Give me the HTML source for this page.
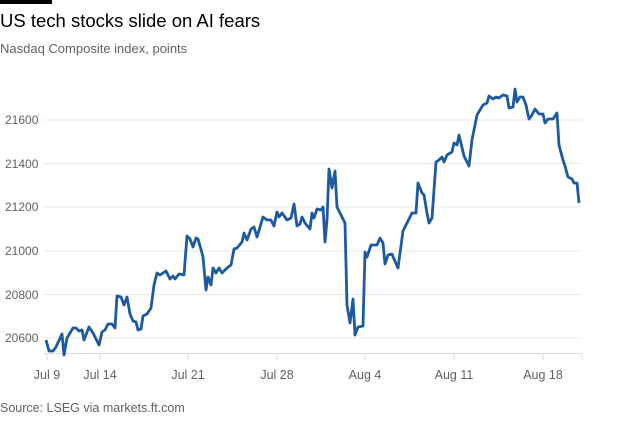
<!DOCTYPE html>
<html><head><meta charset="utf-8"><style>
body{margin:0;background:#fff;width:634px;height:428px;overflow:hidden;font-family:"Liberation Sans",sans-serif}
</style></head><body>
<svg width="634" height="428" xmlns="http://www.w3.org/2000/svg" font-family="Liberation Sans, sans-serif">
<rect x="0" y="0" width="52" height="4" fill="#000"/>
<text x="0" y="27" font-size="18.5" fill="#000">US tech stocks slide on AI fears</text>
<text x="0" y="53" font-size="13" fill="#66605c">Nasdaq Composite index, points</text>
<g stroke="#ebe8e5" stroke-width="1">
<line x1="44" x2="582" y1="120" y2="120"/><line x1="44" x2="582" y1="163.5" y2="163.5"/>
<line x1="44" x2="582" y1="207" y2="207"/><line x1="44" x2="582" y1="251" y2="251"/>
<line x1="44" x2="582" y1="294.5" y2="294.5"/><line x1="44" x2="582" y1="338" y2="338"/>
</g>
<line x1="44" x2="582" y1="353.5" y2="353.5" stroke="#e0ddda"/>
<g stroke="#e0ddda"><line x1="47" x2="47" y1="354" y2="360"/><line x1="100" x2="100" y1="354" y2="360"/><line x1="188" x2="188" y1="354" y2="360"/><line x1="277" x2="277" y1="354" y2="360"/><line x1="365" x2="365" y1="354" y2="360"/><line x1="454" x2="454" y1="354" y2="360"/><line x1="543" x2="543" y1="354" y2="360"/><line x1="582" x2="582" y1="354" y2="360"/></g>
<g font-size="12" fill="#66605c">
<text x="5" y="124">21600</text><text x="5" y="168">21400</text><text x="5" y="211">21200</text>
<text x="5" y="255">21000</text><text x="5" y="299">20800</text><text x="5" y="342">20600</text>
</g>
<g font-size="12.5" fill="#66605c" text-anchor="middle">
<text x="47" y="379">Jul 9</text><text x="100" y="379">Jul 14</text><text x="188" y="379">Jul 21</text>
<text x="277" y="379">Jul 28</text><text x="365" y="379">Aug 4</text><text x="454" y="379">Aug 11</text><text x="543" y="379">Aug 18</text>
</g>
<text x="0" y="412" font-size="12.5" fill="#66605c">Source: LSEG via markets.ft.com</text>
<polyline fill="none" stroke="#1e5aa0" stroke-width="2.8" stroke-linejoin="round" points="46,340 49,351 53,351 56,347 62,334 64,355 67,338 73,328 76,328 79,331 82,330 84,340 89,327 93,333 99,345 102,332 105,330 108,324 112,324 115,328 117,296 121,297 124,305 127,297 130,314 133,321 136,322 138,330 141,329 143,316 147,314 151,308 154,285 157,273 160,275 163,273 166,271 170,279 173,276 175,279 179,274 184,275 187,236 190,239 193,247 196,238 198,239 202,253 203,257 206,290 208,277 211,285 213,268 216,273 219,268 222,273 227,268 231,265 234,249 237,248 242,242 244,233 247,240 251,229 254,227 257,237 263,217 267,220 271,220 274,226 277,212 279,217 282,213 287,220 291,218 294,204 297,226 300,224 302,217 305,223 310,229 312,213 314,218 317,209 321,210 323,207 325,242 327,220 329,169 332,188 335,171 337,207 345,223 347,305 350,323 353,299 355,335 358,327 363,326 365,252 367,257 371,245 377,245 380,238 383,243 385,264 388,255 392,254 394,259 398,268 403,231 407,223 412,213 416,213 418,183 422,193 424,195 427,213 429,223 432,218 436,162 439,160 442,157 444,162 447,155 452,152 454,143 457,145 459,135 464,156 469,166 472,140 477,115 480,110 483,105 487,103 489,96 493,99 496,97 499,98 503,95 507,96 509,108 513,107 515,89 517,102 520,97 523,97 526,105 529,119 532,115 535,109 539,114 543,114 545,123 548,119 553,119 557,113 559,145 563,160 565,166 568,177 572,179 574,183 577,183 579,203"/>
</svg>
</body></html>
